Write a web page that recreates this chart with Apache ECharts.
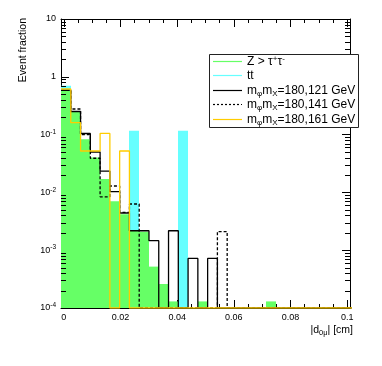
<!DOCTYPE html>
<html>
<head>
<meta charset="utf-8">
<script src="https://cdn.jsdelivr.net/npm/echarts@6/dist/echarts.min.js"></script>
<style>
  html, body { margin: 0; padding: 0; background: #fff; }
  #chart-container { width: 382px; height: 366px; }
</style>
</head>
<body>
<div id="chart-container"></div>
<script>
// histogram binning (|d0mu| in cm)
const binStart = -0.001;
const binWidth = 0.00345;

// event fractions per bin, 30 bins
const zTauTau = [0.575, 0.245, 0.083, 0.040, 0.0171, 0.0070, 0.0042, 0.00217, 0.00209, 0.00052,
  0.00026, 0.00013, 0, 0, 0.00013, 0, 0, 0, 0, 0,
  0, 0.00013, 0, 0, 0, 0, 0, 0, 0, 0];
const ttbar = [0.70, 0, 0, 0, 0, 0, 0, 0.117, 0, 0,
  0, 0, 0.117, 0, 0, 0, 0, 0, 0, 0,
  0, 0, 0, 0, 0, 0, 0, 0, 0, 0];
const m121 = [0.59, 0.251, 0.1045, 0.050, 0.0234, 0.0103, 0.0044, 0.00217, 0.00217, 0.00146,
  0, 0.00217, 0, 0.00072, 0, 0.00072, 0, 0, 0, 0,
  0, 0, 0, 0, 0, 0, 0, 0, 0, 0];
const m141 = [0.58, 0.277, 0.100, 0.039, 0.0084, 0.0129, 0.0045, 0.0063, 0, 0,
  0, 0, 0, 0, 0, 0, 0.0021, 0, 0, 0,
  0, 0, 0, 0, 0, 0, 0, 0, 0, 0];
const m161 = [0.615, 0.161, 0.052, 0.052, 0.105, 0, 0.052, 0, 0, 0,
  0, 0, 0, 0, 0, 0, 0, 0, 0, 0,
  0, 0, 0, 0, 0, 0, 0, 0, 0, 0];

// axis ticks
const xMajorTicks = [0, 0.02, 0.04, 0.06, 0.08, 0.1];
const xMinorTicks = [0.005, 0.01, 0.015, 0.025, 0.03, 0.035, 0.045, 0.05, 0.055,
  0.065, 0.07, 0.075, 0.085, 0.09, 0.095];
const yMajorTicks = [1e-4, 1e-3, 1e-2, 1e-1, 1, 10];
const yMinorMultipliers = [2, 3, 4, 5, 6, 7, 8, 9];

const legendLabels = [
  "Z > τ{sup|+}τ{sup|-}",
  "tt",
  "m{sub|φ}m{sub|X}=180,121 GeV",
  "m{sub|φ}m{sub|X}=180,141 GeV",
  "m{sub|φ}m{sub|X}=180,161 GeV",
];

const xMin = -0.001, xMax = 0.101;
const yMin = 1e-4, yMax = 10;

const colors = {
  z: "#66ff66",
  tt: "#66ffff",
  m121: "#000000",
  m141: "#000000",
  m161: "#ffcc00",
};

// minor log ticks 2..9 in every decade
const yMinorTicks = [];
yMajorTicks.slice(0, -1).forEach((d) => {
  yMinorMultipliers.forEach((m) => yMinorTicks.push(m * d));
});

function fillData(values) {
  return values
    .map((v, k) => [binStart + k * binWidth, binStart + (k + 1) * binWidth, v])
    .filter((d) => d[2] > 0);
}

function stepData(values) {
  const pts = values.map((v, k) => [binStart + k * binWidth, Math.max(v, yMin)]);
  pts.push([binStart + values.length * binWidth, Math.max(values[values.length - 1], yMin)]);
  return pts;
}

function fillRenderer(color) {
  return function (params, api) {
    const p0 = api.coord([api.value(0), api.value(2)]);
    const p1 = api.coord([api.value(1), yMin]);
    const x0 = Math.round(p0[0]);
    const x1 = Math.round(p1[0]);
    return {
      type: "rect",
      shape: { x: x0, y: p0[1], width: x1 - x0, height: p1[1] - p0[1] },
      style: { fill: color },
    };
  };
}

// log minor ticks on left and right frame edges
function minorTickRenderer(params, api) {
  const cs = params.coordSys;
  const y = Math.round(api.coord([xMin, api.value(1)])[1]) + 0.5;
  const len = 5;
  return {
    type: "group",
    children: [
      { type: "line", shape: { x1: cs.x, y1: y, x2: cs.x + len, y2: y }, style: { stroke: "#000", lineWidth: 1 } },
      { type: "line", shape: { x1: cs.x + cs.width - len, y1: y, x2: cs.x + cs.width, y2: y }, style: { stroke: "#000", lineWidth: 1 } },
    ],
  };
}

function yLabel(v) {
  const e = Math.round(Math.log10(v));
  if (e === 1) return "10";
  if (e === 0) return "1";
  return "10{sup|" + e + "}";
}

function xAxisDef(position, ticks, len, withLine, withLabels) {
  return {
    type: "value",
    min: xMin,
    max: xMax,
    position: position,
    axisLine: { show: withLine, onZero: false, lineStyle: { color: "#000", width: 1 } },
    axisTick: { show: true, inside: true, length: len, customValues: ticks, lineStyle: { color: "#000", width: 1 } },
    axisLabel: withLabels
      ? {
          show: true,
          customValues: xMajorTicks,
          formatter: (v) => String(Number(v.toFixed(3))),
          fontFamily: "Liberation Sans",
          fontSize: 9,
          color: "#000",
          margin: 5,
        }
      : { show: false },
    splitLine: { show: false },
    minorTick: { show: false },
  };
}

function yAxisDef(position, withLabels) {
  return {
    type: "log",
    logBase: 10,
    min: yMin,
    max: yMax,
    position: position,
    axisLine: { show: true, onZero: false, lineStyle: { color: "#000", width: 1 } },
    axisTick: { show: true, inside: true, length: 8, customValues: yMajorTicks, lineStyle: { color: "#000", width: 1 } },
    axisLabel: withLabels
      ? {
          show: true,
          customValues: yMajorTicks,
          formatter: yLabel,
          fontFamily: "Liberation Sans",
          fontSize: 9,
          color: "#000",
          margin: 5,
          rich: {
            sup: { fontSize: 6.5, fontFamily: "Liberation Sans", color: "#000", padding: [0, 0, 5, 0] },
          },
        }
      : { show: false },
    splitLine: { show: false },
    minorTick: { show: false },
  };
}

function buildLegend() {
  const left = 209, top = 54, width = 149, height = 73;
  const rowTop = 61, rowGap = 14.4;
  const styles = [
    { stroke: colors.z },
    { stroke: colors.tt },
    { stroke: colors.m121 },
    { stroke: colors.m141, lineDash: [2, 2] },
    { stroke: colors.m161 },
  ];
  const items = [
    {
      type: "rect",
      shape: { x: left + 0.5, y: top + 0.5, width: width, height: height },
      style: { fill: "#fff", stroke: "#222", lineWidth: 1 },
      z: 100,
    },
  ];
  legendLabels.forEach((label, i) => {
    const y = Math.round(rowTop + i * rowGap) + 0.5;
    items.push({
      type: "line",
      shape: { x1: 213, y1: y, x2: 242, y2: y },
      style: Object.assign({ lineWidth: 1.2 }, styles[i]),
      z: 101,
    });
    items.push({
      type: "text",
      x: 247,
      y: y,
      style: {
        text: label,
        fontFamily: "Liberation Sans",
        fontSize: 12,
        fill: "#000",
        verticalAlign: "middle",
        rich: {
          sup: { fontSize: 8, fontFamily: "Liberation Sans", fill: "#000", padding: [0, 0, 6, 0] },
          sub: { fontSize: 8, fontFamily: "Liberation Sans", fill: "#000", padding: [6, 0, 0, 0] },
        },
      },
      z: 101,
    });
  });
  return items;
}

const dom = document.getElementById("chart-container");
const chart = echarts.init(dom, null, { renderer: "canvas" });

const option = {
  animation: false,
  backgroundColor: "#fff",
  grid: { left: 61, right: 32, top: 19, bottom: 58, containLabel: false, outerBoundsMode: "none" },
  xAxis: [
    xAxisDef("bottom", xMajorTicks, 8, true, true),
    xAxisDef("bottom", xMinorTicks, 4, false, false),
    xAxisDef("top", xMajorTicks, 8, true, false),
    xAxisDef("top", xMinorTicks, 4, false, false),
  ],
  yAxis: [yAxisDef("left", true), yAxisDef("right", false)],
  series: [
    {
      name: "tt",
      type: "custom",
      renderItem: fillRenderer(colors.tt),
      data: fillData(ttbar),
      encode: { x: [0, 1], y: 2 },
      clip: true,
      silent: true,
      z: 1,
    },
    {
      name: "Z",
      type: "custom",
      renderItem: fillRenderer(colors.z),
      data: fillData(zTauTau),
      encode: { x: [0, 1], y: 2 },
      clip: true,
      silent: true,
      z: 2,
    },
    {
      name: "m121",
      type: "line",
      step: "end",
      symbol: "none",
      data: stepData(m121),
      lineStyle: { color: colors.m121, width: 1.3 },
      z: 3,
    },
    {
      name: "m141",
      type: "line",
      step: "end",
      symbol: "none",
      data: stepData(m141),
      lineStyle: { color: colors.m141, width: 1.3, type: [3, 2] },
      z: 4,
    },
    {
      name: "m161",
      type: "line",
      step: "end",
      symbol: "none",
      data: stepData(m161),
      lineStyle: { color: colors.m161, width: 1.3 },
      z: 5,
    },
    {
      name: "yMinorTicks",
      type: "custom",
      renderItem: minorTickRenderer,
      data: yMinorTicks.map((v) => [xMin, v]),
      encode: { x: 0, y: 1 },
      silent: true,
      z: 6,
    },
  ],
  graphic: [
    {
      type: "text",
      x: 23,
      y: 18,
      rotation: Math.PI / 2,
      style: {
        text: "Event fraction",
        fontFamily: "Liberation Sans",
        fontSize: 10.5,
        fill: "#000",
        align: "right",
        verticalAlign: "middle",
      },
    },
    {
      type: "text",
      x: 353,
      y: 330,
      style: {
        text: "|d{sub|0μ}| [cm]",
        fontFamily: "Liberation Sans",
        fontSize: 10.5,
        fill: "#000",
        align: "right",
        verticalAlign: "middle",
        rich: {
          sub: { fontSize: 7.5, fontFamily: "Liberation Sans", fill: "#000", padding: [6, 0, 0, 0] },
        },
      },
    },
  ].concat(buildLegend()),
};

chart.setOption(option);
window.addEventListener("resize", () => chart.resize());
</script>
</body>
</html>
